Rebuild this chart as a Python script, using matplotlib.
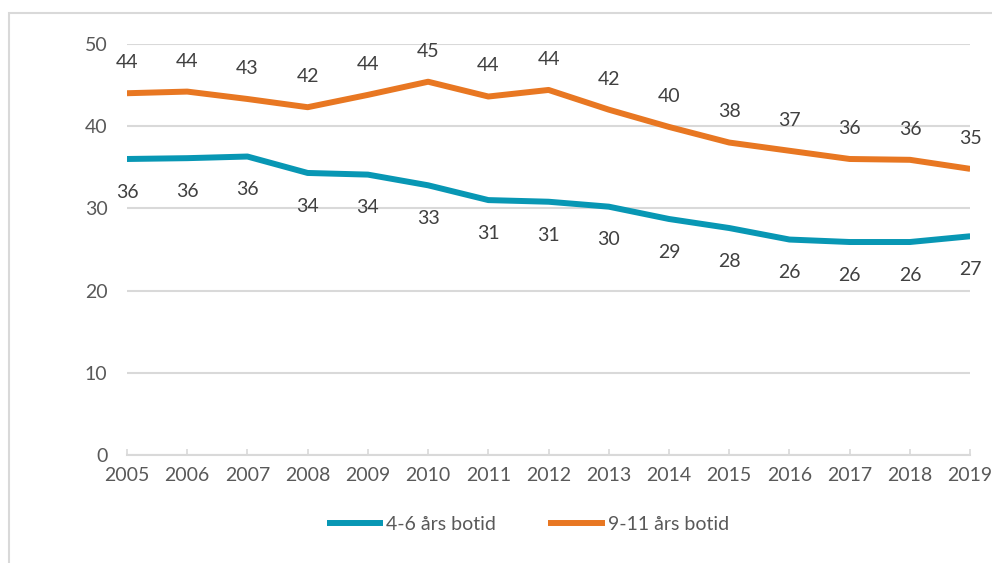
import matplotlib.pyplot as plt
from matplotlib.patches import Rectangle

plt.rcParams['font.family'] = ['Lato', 'DejaVu Sans']

years = list(range(2005, 2020))
botid_4_6 = [36.0, 36.1, 36.3, 34.3, 34.1, 32.8, 31.0, 30.8, 30.2, 28.7, 27.6, 26.2, 25.9, 25.9, 26.6]
botid_9_11 = [44.0, 44.2, 43.3, 42.3, 43.8, 45.4, 43.6, 44.4, 42.0, 39.9, 38.0, 37.0, 36.0, 35.9, 34.8]
labels_4_6 = [36, 36, 36, 34, 34, 33, 31, 31, 30, 29, 28, 26, 26, 26, 27]
labels_9_11 = [44, 44, 43, 42, 44, 45, 44, 44, 42, 40, 38, 37, 36, 36, 35]

teal = '#0897b4'
orange = '#e87722'
grid_c = '#d9d9d9'
text_c = '#595959'
fs = 14

fig = plt.figure(figsize=(9.92, 5.63), dpi=100)
ax = fig.add_axes([0.128, 0.192, 0.850, 0.730])

# outer frame (cut off at right and bottom like the source)
fig.patches.append(Rectangle((9 / 992, -0.05), 1.1, (563 - 13) / 563 + 0.05,
                             transform=fig.transFigure, fill=False,
                             edgecolor=grid_c, linewidth=1.5))

ax.plot(years, botid_4_6, color=teal, linewidth=4.3, label='4-6 års botid',
        solid_capstyle='butt', solid_joinstyle='round')
ax.plot(years, botid_9_11, color=orange, linewidth=4.3, label='9-11 års botid',
        solid_capstyle='butt', solid_joinstyle='round')

for x, y, t in zip(years, botid_9_11, labels_9_11):
    ax.annotate(str(t), (x, y), xytext=(0, 22), textcoords='offset points',
                ha='center', va='center', fontsize=fs, color='#404040')
for x, y, t in zip(years, botid_4_6, labels_4_6):
    ax.annotate(str(t), (x, y), xytext=(0, -24), textcoords='offset points',
                ha='center', va='center', fontsize=fs, color='#404040')

ax.set_xlim(2005, 2019)
ax.set_ylim(0, 50)
ax.set_yticks([0, 10, 20, 30, 40, 50])
ax.set_xticks(years)
ax.yaxis.grid(True, color=grid_c, linewidth=1.5)
ax.set_axisbelow(True)
for s in ['top', 'right', 'left']:
    ax.spines[s].set_visible(False)
ax.spines['bottom'].set_color(grid_c)
ax.spines['bottom'].set_linewidth(1.5)
ax.tick_params(axis='x', direction='in', length=4.5, width=1.2, color=grid_c,
               labelsize=fs, labelcolor=text_c, pad=9)
ax.tick_params(axis='y', length=0, labelsize=fs, labelcolor=text_c, pad=14)

fig.legend(loc='center', bbox_to_anchor=(0.532, 0.068), ncol=2, frameon=False,
           fontsize=fs, labelcolor=text_c, handlelength=2.9, handletextpad=0.15,
           columnspacing=2.7)

fig.savefig('out.png', dpi=100)
